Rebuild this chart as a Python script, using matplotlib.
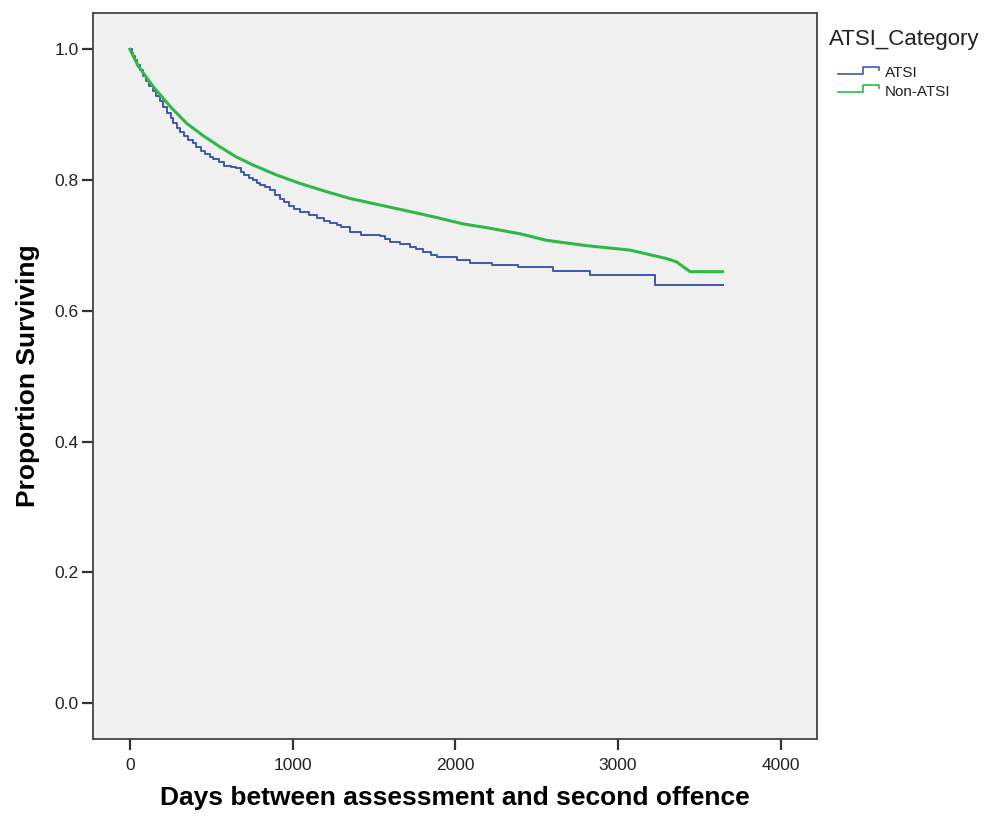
import matplotlib
matplotlib.use("Agg")
import matplotlib.pyplot as plt
from matplotlib.lines import Line2D
from matplotlib.legend_handler import HandlerBase

plt.rcParams['font.family'] = ['Liberation Sans', 'DejaVu Sans']

# Kaplan-Meier estimates (days, proportion surviving)
atsi_days = [0, 10, 20, 30, 45, 61, 80, 100, 120, 140, 160, 184, 205, 230, 250,
             266, 290, 310, 330, 360, 385, 409, 440, 460, 490, 512, 545, 580,
             620, 655, 680, 700, 730, 758, 780, 800, 830, 861, 890, 920, 950,
             980, 1010, 1045, 1100, 1147, 1190, 1230, 1270, 1300, 1352, 1420,
             1537, 1570, 1600, 1660, 1721, 1760, 1800, 1850, 1885, 2008, 2090,
             2223, 2387, 2602, 2828, 3228, 3643]
atsi_surv = [1.0, 0.995, 0.990, 0.983, 0.976, 0.968, 0.960, 0.952, 0.944, 0.936,
             0.929, 0.921, 0.912, 0.903, 0.895, 0.887, 0.880, 0.874, 0.868, 0.862,
             0.857, 0.851, 0.845, 0.840, 0.836, 0.833, 0.828, 0.822, 0.820, 0.818,
             0.812, 0.808, 0.804, 0.800, 0.796, 0.792, 0.789, 0.785, 0.778, 0.771,
             0.766, 0.760, 0.756, 0.752, 0.746, 0.742, 0.738, 0.735, 0.731, 0.728,
             0.721, 0.716, 0.714, 0.710, 0.706, 0.702, 0.698, 0.694, 0.690, 0.686,
             0.683, 0.678, 0.674, 0.670, 0.667, 0.661, 0.655, 0.640, 0.640]

non_days = [0, 50, 143, 250, 348, 450, 553, 650, 758, 900, 1045, 1200, 1352,
            1537, 1721, 1900, 2049, 2200, 2397, 2561, 2800, 3074, 3299, 3360,
            3443, 3643]
non_surv = [1.0, 0.975, 0.943, 0.912, 0.887, 0.868, 0.851, 0.836, 0.823, 0.808,
            0.795, 0.783, 0.772, 0.762, 0.752, 0.742, 0.733, 0.727, 0.718, 0.708,
            0.700, 0.693, 0.680, 0.675, 0.660, 0.660]

group_names = ["ATSI", "Non-ATSI"]
group_colors = ["#3E58AC", "#2EB848"]

x_ticks = [0, 1000, 2000, 3000, 4000]
y_ticks = [0.0, 0.2, 0.4, 0.6, 0.8, 1.0]


# legend handle shaped like a little step (SPSS style)
class StepHandler(HandlerBase):
    def create_artists(self, legend, orig_handle, xdescent, ydescent,
                       width, height, fontsize, trans):
        x0 = -xdescent
        y0 = -ydescent
        xs = [x0, x0 + 0.6 * width, x0 + 0.6 * width, x0 + width, x0 + width]
        ys = [y0 + 0.3 * height, y0 + 0.3 * height, y0 + 0.95 * height,
              y0 + 0.95 * height, y0 + 0.7 * height]
        ln = Line2D(xs, ys, color=orig_handle.get_color(), lw=1.2,
                    transform=trans)
        return [ln]


fig = plt.figure(figsize=(9.85, 8.21), dpi=100)
ax = fig.add_axes([0.0944, 0.0999, 0.7350, 0.8846])
ax.set_facecolor("#F0F0F0")

l1, = ax.plot(atsi_days, atsi_surv, drawstyle="steps-post",
              color=group_colors[0], lw=1.4)
l2, = ax.plot(non_days, non_surv, color=group_colors[1], lw=2.2)

ax.set_xlim(-227, 4223)
ax.set_ylim(-0.0546, 1.056)
ax.set_xticks(x_ticks)
ax.set_yticks(y_ticks)
ax.set_yticklabels(["%.1f" % v for v in y_ticks])

for s in ax.spines.values():
    s.set_color("#444444")
    s.set_linewidth(1.3)
ax.tick_params(direction="out", length=8, width=1.6, color="#333333",
               labelsize=12.5, labelcolor="#222222")
ax.tick_params(axis="x", pad=6)
ax.tick_params(axis="y", pad=2.5)

ax.set_xlabel("Days between assessment and second offence", fontsize=19,
              fontweight="bold", labelpad=9)
ax.set_ylabel("Proportion Surviving", fontsize=19, fontweight="bold",
              labelpad=10)

fig.text(829 / 985, 1 - 39 / 821, "ATSI_Category", fontsize=16,
         ha="left", va="center", color="#222222")

leg = ax.legend([l1, l2], group_names,
                handler_map={Line2D: StepHandler()},
                loc="upper left", bbox_to_anchor=(838 / 985, 1 - 66 / 821),
                bbox_transform=fig.transFigure,
                frameon=False, fontsize=11, borderpad=0.0, borderaxespad=0.0,
                handlelength=2.7, handletextpad=0.35, labelspacing=0.3)
for t in leg.get_texts():
    t.set_color("#222222")

fig.savefig("out.png", dpi=100)
